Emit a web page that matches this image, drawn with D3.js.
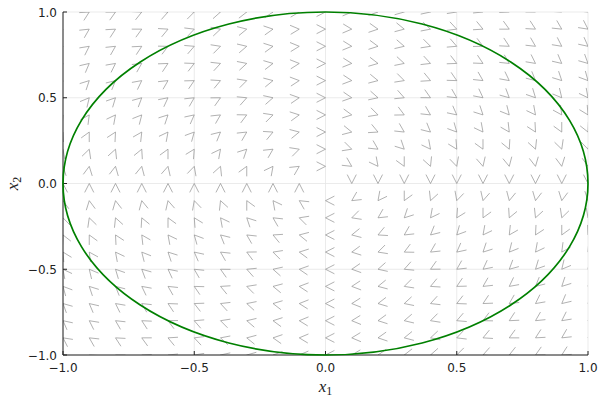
<!DOCTYPE html>
<html>
<head>
<meta charset="utf-8">
<script src="https://cdn.jsdelivr.net/npm/d3@7"></script>
<style>
  body { margin: 0; background: #fff; }
  text { font-family: "DejaVu Sans", sans-serif; }
</style>
</head>
<body>
<svg id="chart" width="600" height="400"></svg>
<script>
// grid of sample points for the direction field
var gridX = [-1.0, -0.9, -0.8, -0.7, -0.6, -0.5, -0.4, -0.3, -0.2, -0.1, 0.0,
             0.1, 0.2, 0.3, 0.4, 0.5, 0.6, 0.7, 0.8, 0.9, 1.0];
var gridY = [-1.0, -0.9, -0.8, -0.7, -0.6, -0.5, -0.4, -0.3, -0.2, -0.1, 0.0,
             0.1, 0.2, 0.3, 0.4, 0.5, 0.6, 0.7, 0.8, 0.9, 1.0];
// linear system dx/dt = A x  (clockwise rotation)
var systemA = [[0, 1], [-1, 0]];
// trajectory drawn in green: circle x1^2 + x2^2 = r^2
var orbitCenter = [0, 0];
var orbitRadius = 1;
var tickVals = [-1, -0.5, 0, 0.5, 1];
var tickLabels = ["\u22121.0", "\u22120.5", "0.0", "0.5", "1.0"];

var W = 600, H = 400;
var margin = {left: 63, right: 12, top: 12, bottom: 45};

var svg = d3.select("#chart");

var x = d3.scaleLinear().domain([-1, 1]).range([margin.left, W - margin.right]);
var y = d3.scaleLinear().domain([-1, 1]).range([H - margin.bottom, margin.top]);

svg.append("clipPath").attr("id", "plotclip")
  .append("rect")
  .attr("x", x(-1)).attr("y", y(1))
  .attr("width", x(1) - x(-1)).attr("height", y(-1) - y(1));

// grid lines
var grid = svg.append("g").attr("class", "grid");
grid.selectAll(".gx").data(tickVals).enter().append("line")
  .attr("x1", function(d){ return x(d); }).attr("x2", function(d){ return x(d); })
  .attr("y1", y(-1)).attr("y2", y(1))
  .attr("stroke", "#e6e6e6").attr("stroke-width", 0.8);
grid.selectAll(".gy").data(tickVals).enter().append("line")
  .attr("y1", function(d){ return y(d); }).attr("y2", function(d){ return y(d); })
  .attr("x1", x(-1)).attr("x2", x(1))
  .attr("stroke", "#e6e6e6").attr("stroke-width", 0.8);

// direction field: open arrowheads with tip on each grid point
var points = [];
gridY.forEach(function(yv){
  gridX.forEach(function(xv){
    var u = systemA[0][0] * xv + systemA[0][1] * yv;
    var v = systemA[1][0] * xv + systemA[1][1] * yv;
    if (u !== 0 || v !== 0) points.push({x: xv, y: yv, u: u, v: v});
  });
});

var headLen = 10, headAng = 27 * Math.PI / 180;
function arrowPath(d){
  var tx = x(d.x), ty = y(d.y);
  var sx = x(d.u) - x(0), sy = y(d.v) - y(0);
  var a = Math.atan2(sy, sx) + Math.PI;
  var b1 = [tx + headLen * Math.cos(a - headAng), ty + headLen * Math.sin(a - headAng)];
  var b2 = [tx + headLen * Math.cos(a + headAng), ty + headLen * Math.sin(a + headAng)];
  return "M" + b1[0] + "," + b1[1] + "L" + tx + "," + ty + "L" + b2[0] + "," + b2[1];
}

svg.append("g").attr("clip-path", "url(#plotclip)")
  .selectAll("path").data(points).enter().append("path")
  .attr("d", arrowPath)
  .attr("fill", "none")
  .attr("stroke", "#8c8c8c")
  .attr("stroke-opacity", 0.85)
  .attr("stroke-width", 0.8);

// axes: left and bottom spines, inward ticks
var axes = svg.append("g");
axes.append("line")
  .attr("x1", x(-1)).attr("x2", x(-1)).attr("y1", y(-1)).attr("y2", y(1))
  .attr("stroke", "#222").attr("stroke-width", 1);
axes.append("line")
  .attr("x1", x(-1)).attr("x2", x(1)).attr("y1", y(-1)).attr("y2", y(-1))
  .attr("stroke", "#222").attr("stroke-width", 1);

axes.selectAll(".tx").data(tickVals).enter().append("line")
  .attr("x1", function(d){ return x(d); }).attr("x2", function(d){ return x(d); })
  .attr("y1", y(-1)).attr("y2", y(-1) - 4)
  .attr("stroke", "#222").attr("stroke-width", 1);
axes.selectAll(".ty").data(tickVals).enter().append("line")
  .attr("y1", function(d){ return y(d); }).attr("y2", function(d){ return y(d); })
  .attr("x1", x(-1)).attr("x2", x(-1) + 4)
  .attr("stroke", "#222").attr("stroke-width", 1);

axes.selectAll(".lx").data(tickVals).enter().append("text")
  .attr("x", function(d){ return x(d); })
  .attr("y", y(-1) + 17)
  .attr("text-anchor", "middle")
  .attr("font-size", 12).attr("fill", "#222")
  .text(function(d, i){ return tickLabels[i]; });
axes.selectAll(".ly").data(tickVals).enter().append("text")
  .attr("x", x(-1) - 6)
  .attr("y", function(d){ return y(d) + 4.5; })
  .attr("text-anchor", "end")
  .attr("font-size", 12).attr("fill", "#222")
  .text(function(d, i){ return tickLabels[i]; });

// axis labels
var xl = svg.append("text")
  .attr("x", x(0)).attr("y", 392)
  .attr("text-anchor", "middle")
  .style("font-family", "'Liberation Serif', serif")
  .attr("font-size", 17).attr("fill", "#222");
xl.append("tspan").attr("font-style", "italic").text("x");
xl.append("tspan").attr("font-size", 12).attr("dy", 3).text("1");

var yl = svg.append("text")
  .attr("transform", "translate(18," + y(0) + ") rotate(-90)")
  .attr("text-anchor", "middle")
  .style("font-family", "'Liberation Serif', serif")
  .attr("font-size", 17).attr("fill", "#222");
yl.append("tspan").attr("font-style", "italic").text("x");
yl.append("tspan").attr("font-size", 12).attr("dy", 3).text("2");

// green trajectory
svg.append("ellipse")
  .attr("cx", x(orbitCenter[0])).attr("cy", y(orbitCenter[1]))
  .attr("rx", x(orbitRadius) - x(0)).attr("ry", y(0) - y(orbitRadius))
  .attr("fill", "none")
  .attr("stroke", "#008000")
  .attr("stroke-width", 1.7);
</script>
</body>
</html>
